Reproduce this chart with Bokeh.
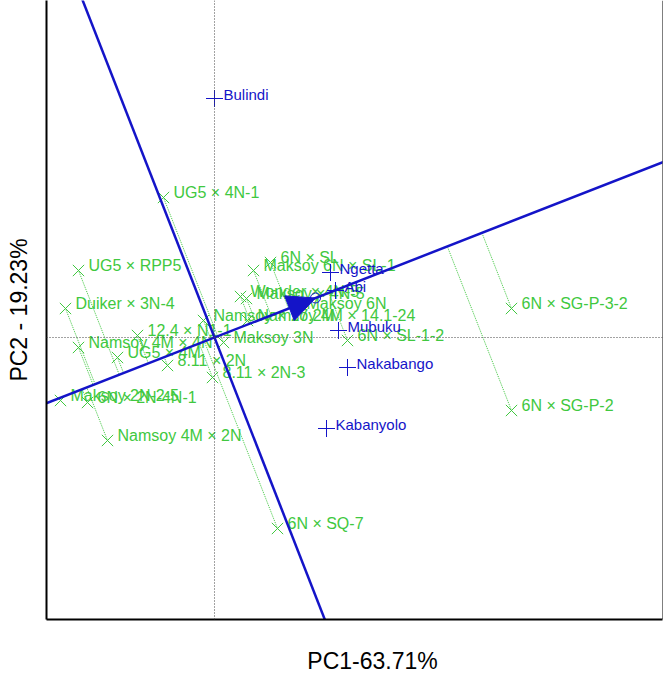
import numpy as np
from bokeh.plotting import figure
from bokeh.layouts import column
from bokeh.models import Range1d, Span, Label, FixedTicker
from bokeh.core.properties import value
from bokeh.embed import file_html
from bokeh.resources import INLINE

# ---- data (biplot scores) ----
genotypes = [
    "UG5 × 4N-1", "UG5 × RPP5", "Duiker × 3N-4", "Namsoy 4M × 4N",
    "12.4 × N1-1", "UG5 × 4M", "8.11 × 2N", "8.11 × 2N-3",
    "Maksoy 2N-2-5", "6N × 2N-4N-1", "Namsoy 4M × 2N", "6N × SQ-7",
    "6N × SG-P-3-2", "6N × SG-P-2", "6N × SL-1-2", "6N × SL",
    "Maksoy 6N × SL-1", "Wonder × 4N-5", "Maksoy × 4N-5", "Maksoy 6N",
    "Namsoy 4M × 14.1-24", "Namsoy × 17.2M", "Maksoy 3N",
]
g_pc1 = [-1.275, -3.4, -3.725, -3.4,
         -1.925, -2.425, -1.175, -0.05,
         -3.85, -3.175, -2.675, 1.575,
         7.425, 7.425, 3.325, 1.4,
         0.975, 0.65, 0.8, 2.05,
         0.825, -0.275, 0.225]
g_pc2 = [3.5, 1.675, 0.725, -0.25,
         0.05, -0.5, -0.7, -1.0,
         -1.575, -1.625, -2.575, -4.775,
         0.725, -1.825, -0.075, 1.875,
         1.675, 1.025, 0.975, 0.725,
         0.425, 0.425, -0.125]

environments = ["Bulindi", "Ngetta", "Abi", "Mubuku", "Nakabango", "Kabanyolo"]
e_pc1 = [0.0, 2.9, 3.025, 3.1, 3.325, 2.8]
e_pc2 = [5.975, 1.625, 1.175, 0.175, -0.75, -2.275]

x_label = "PC1-63.71%"
y_label = "PC2 - 19.23%"

GREEN = "#40C840"
BLUE = "#1414C8"
FONT = "Liberation Sans"

X0, X1 = -4.2, 11.2
Y0, Y1 = -7.05, 8.425

p = figure(width=664, height=621, x_range=Range1d(X0, X1), y_range=Range1d(Y0, Y1),
           output_backend="svg", toolbar_location=None,
           min_border_left=46, min_border_right=2, min_border_top=0, min_border_bottom=2)
p.grid.visible = False
p.outline_line_color = None
p.background_fill_color = "white"
p.border_fill_color = "white"
for ax in (p.xaxis[0], p.yaxis[0]):
    ax.ticker = FixedTicker(ticks=[])
    ax.axis_line_width = 2
    ax.axis_line_color = "black"
    ax.major_tick_out = 0
    ax.major_tick_in = 0
    ax.minor_tick_out = 0
    ax.minor_tick_in = 0
    ax.major_label_standoff = 0

p.yaxis[0].axis_label = y_label
p.yaxis[0].axis_label_text_font = FONT
p.yaxis[0].axis_label_text_font_size = "23px"
p.yaxis[0].axis_label_text_font_style = "normal"
p.yaxis[0].axis_label_text_color = "black"
p.yaxis[0].axis_label_standoff = 15

# right border
p.add_layout(Span(location=X1, dimension="height", line_color="black", line_width=1))
# origin reference lines
p.add_layout(Span(location=0, dimension="height", line_color="#444444", line_width=1, line_dash="1 2"))
p.add_layout(Span(location=0, dimension="width", line_color="#444444", line_width=1, line_dash="1 2"))

# average environment axis
gx = np.array(g_pc1); gy = np.array(g_pc2)
mx, my = float(np.mean(e_pc1)), float(np.mean(e_pc2))
nrm = np.hypot(mx, my)
u = np.array([mx, my]) / nrm
v = np.array([-u[1], u[0]])

# projections of genotypes onto the AEA
t = gx * u[0] + gy * u[1]
p.segment(x0=gx, y0=gy, x1=t * u[0], y1=t * u[1], line_color=GREEN, line_width=1, line_dash="1 1")

# genotype markers and labels
p.scatter(x=gx, y=gy, marker="x", size=16, line_color=GREEN, line_width=1)
p.text(x=gx, y=gy, text=genotypes, x_offset=10, y_offset=-5,
       text_font=value(FONT), text_font_size="16px", text_color=GREEN,
       text_baseline="alphabetic", text_align="left")

# AEA and ATC lines
L = 40.0
p.line(x=[-L * u[0], L * u[0]], y=[-L * u[1], L * u[1]], line_color=BLUE, line_width=2.5)
p.line(x=[-L * v[0], L * v[0]], y=[-L * v[1], L * v[1]], line_color=BLUE, line_width=2.5)

# arrow at the average environment
al, aw = 0.7, 0.33
back = np.array([mx, my]) - al * u
p.patch(x=[mx, back[0] + aw * v[0], back[0] - aw * v[0]],
        y=[my, back[1] + aw * v[1], back[1] - aw * v[1]],
        fill_color=BLUE, line_color=BLUE)
p.scatter(x=[mx], y=[my], marker="circle", size=10, fill_color=None, line_color=BLUE, line_width=1)

# environment markers and labels
p.scatter(x=e_pc1, y=e_pc2, marker="cross", size=17, line_color=BLUE, line_width=1)
p.text(x=e_pc1, y=e_pc2, text=environments, x_offset=9, y_offset=-4,
       text_font=value(FONT), text_font_size="15px", text_color=BLUE,
       text_baseline="alphabetic", text_align="left")

# x-axis title strip
p2 = figure(width=664, height=52, x_range=Range1d(0, 1), y_range=Range1d(0, 1),
            output_backend="svg", toolbar_location=None, min_border=0)
p2.axis.visible = False
p2.grid.visible = False
p2.outline_line_color = None
p2.border_fill_color = "white"
p2.add_layout(Label(x=326, y=13, x_units="screen", y_units="screen", text=x_label,
                    text_align="center", text_baseline="middle",
                    text_font=FONT, text_font_size="23px", text_color="black"))

layout = column(p, p2, spacing=0)
open("out.html", "w").write(file_html(layout, INLINE))
